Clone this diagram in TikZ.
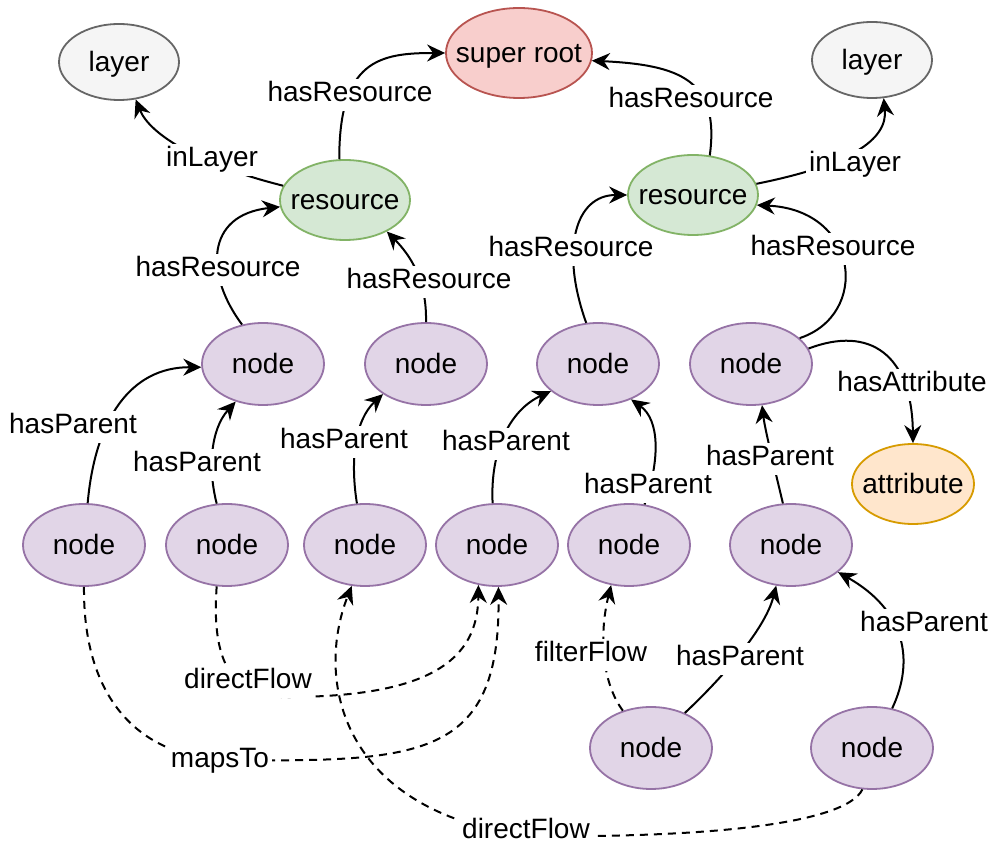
\documentclass[tikz,border=0pt]{standalone}
\usepackage{fontspec}
\setmainfont{Liberation Sans}
\usetikzlibrary{arrows.meta,shapes.geometric}
\definecolor{redF}{HTML}{F8CECC}\definecolor{redS}{HTML}{B85450}
\definecolor{grnF}{HTML}{D5E8D4}\definecolor{grnS}{HTML}{82B366}
\definecolor{purF}{HTML}{E1D5E7}\definecolor{purS}{HTML}{9673A6}
\definecolor{orgF}{HTML}{FFE6CC}\definecolor{orgS}{HTML}{D79B00}
\definecolor{gryF}{HTML}{F5F5F5}\definecolor{gryS}{HTML}{666666}
\newcommand{\ztxt}[1]{\makebox[0pt]{#1}}
\begin{document}
\begin{tikzpicture}[x=0.5pt,y=-0.5pt,
  ell/.style={ellipse, inner sep=0pt, line width=0.9pt, font=\fontsize{14}{16}\selectfont, text height=10pt, text depth=0pt},
  purp/.style={ell, fill=purF, draw=purS, minimum width=61pt, minimum height=41pt},
  resn/.style={ell, fill=grnF, draw=grnS, minimum width=65pt, minimum height=40pt},
  layn/.style={ell, fill=gryF, draw=gryS, minimum width=60pt, minimum height=38pt},
  conn/.style={line width=1pt, -{Stealth[length=9pt,width=8.5pt,inset=3pt]}},
  flowline/.style={dash pattern=on 4pt off 3pt},
  lbl/.style={fill=white, inner sep=1.5pt, yshift=-1.5pt, font=\fontsize{14}{16}\selectfont, text height=10pt, text depth=3pt}
]
\useasboundingbox (0,0) rectangle (993,844);
\fill[white] (0,0) rectangle (993,844);

% nodes
\node[ell, fill=redF, draw=redS, minimum width=73pt, minimum height=45pt] (root) at (519,53) {\ztxt{super root}};
\node[layn] (layL) at (119,62) {\ztxt{layer}};
\node[layn] (layR) at (872,60) {\ztxt{layer}};
\node[resn] (resL) at (345,200) {\ztxt{resource}};
\node[resn] (resR) at (693,195) {\ztxt{resource}};
\node[purp] (n21) at (263,364) {\ztxt{node}};
\node[purp] (n22) at (426,364) {\ztxt{node}};
\node[purp] (n23) at (598,364) {\ztxt{node}};
\node[purp] (n24) at (751,364) {\ztxt{node}};
\node[ell, fill=orgF, draw=orgS, minimum width=61pt, minimum height=40pt] (attr) at (913,484) {\ztxt{attribute}};
\node[purp] (n31) at (84,545) {\ztxt{node}};
\node[purp] (n32) at (227,545) {\ztxt{node}};
\node[purp] (n33) at (365,545) {\ztxt{node}};
\node[purp] (n34) at (497,545) {\ztxt{node}};
\node[purp] (n35) at (629,545) {\ztxt{node}};
\node[purp] (n36) at (791,545) {\ztxt{node}};
\node[purp] (n41) at (651,748) {\ztxt{node}};
\node[purp] (n42) at (872,748) {\ztxt{node}};

% dashed flows
\draw[conn,flowline] (n32.-104) .. controls (212,650) and (225,695) .. (280,697) .. controls (430,698) and (478,660) .. (n34.-115) node[lbl] at (248,679) {directFlow};
\draw[conn,flowline] (n31.-90) .. controls (83,700) and (140,755) .. (222,760) .. controls (420,762) and (500,760) .. (n34.-88) node[lbl] at (220,758) {mapsTo};
\draw[conn,flowline] (n42.-103) .. controls (845,825) and (700,838) .. (526,836) .. controls (340,810) and (315,680) .. (n33.-108) node[lbl] at (526,829) {directFlow};
\draw[conn,flowline] (n41.127) .. controls (600,680) and (600,630) .. (n35.-114) node[lbl] at (591,652) {filterFlow};

% solid edges
\draw[conn] (resL.98) .. controls (339,60) and (380,53) .. (root.west) node[lbl] at (350,92) {hasResource};
\draw[conn] (resR.67) .. controls (720,80) and (680,65) .. (root.-6) node[lbl] at (691,98) {hasResource};
\draw[conn] (resL.167) .. controls (200,165) and (150,135) .. (layL.-66) node[lbl] at (212,157) {inLayer};
\draw[conn] (resR.10) .. controls (850,165) and (888,140) .. (layR.-73) node[lbl] at (855,162) {inLayer};
\draw[conn] (n21.118) .. controls (205,275) and (205,215) .. (resL.186) node[lbl] at (218,267) {hasResource};
\draw[conn] (n22.north) .. controls (427,280) and (410,255) .. (resL.-37) node[lbl] at (429,279) {hasResource};
\draw[conn] (n23.106) .. controls (560,250) and (575,195) .. (resR.west) node[lbl] at (571,247) {hasResource};
\draw[conn] (n24.28) .. controls (870,315) and (860,210) .. (resR.-9) node[lbl] at (833,246) {hasResource};
\draw[conn] (n24.15) .. controls (870,325) and (912,355) .. (attr.north) node[lbl] at (912,382) {hasAttribute};
\draw[conn] (n31.85) .. controls (95,420) and (130,367) .. (n21.183) node[lbl] at (73,424) {hasParent};
\draw[conn] (n32.104) .. controls (208,470) and (210,430) .. (n21.-126) node[lbl] at (197,462) {hasParent};
\draw[conn] (n33.101) .. controls (350,460) and (355,420) .. (n22.-145) node[lbl] at (344,439) {hasParent};
\draw[conn] (n34.96) .. controls (490,450) and (510,410) .. (n23.-150) node[lbl] at (506,441) {hasParent};
\draw[conn] (n35.69) .. controls (660,460) and (660,420) .. (n23.-47) node[lbl] at (648,484) {hasParent};
\draw[conn] (n36.101) .. controls (775,470) and (765,430) .. (n24.-75) node[lbl] at (770,456) {hasParent};
\draw[conn] (n41.46) .. controls (720,680) and (765,630) .. (n36.-110) node[lbl] at (740,656) {hasParent};
\draw[conn] (n42.63) .. controls (915,660) and (905,610) .. (n36.-30) node[lbl] at (924,622) {hasParent};
\end{tikzpicture}
\end{document}
